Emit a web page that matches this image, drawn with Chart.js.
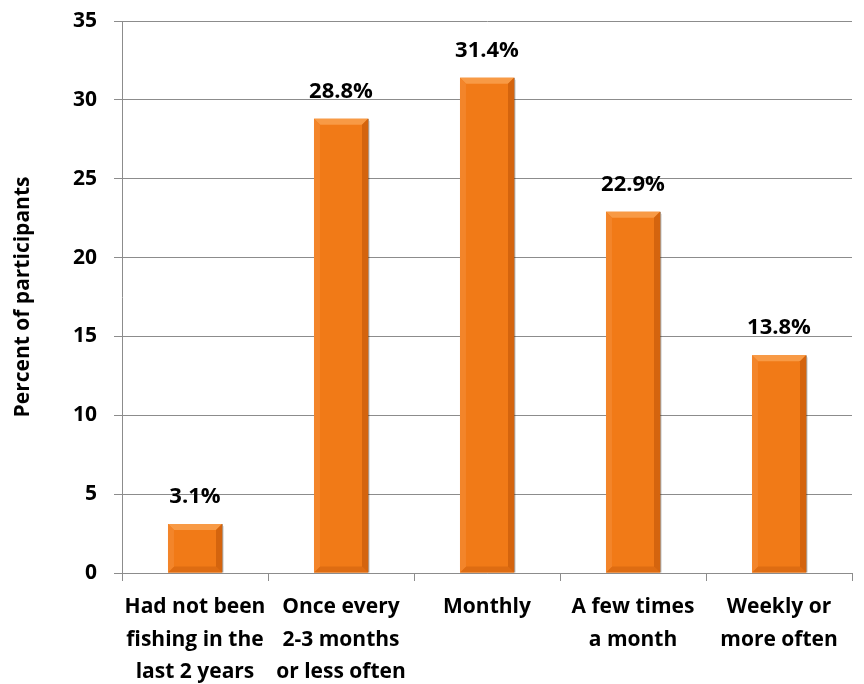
<!DOCTYPE html>
<html>
<head>
<meta charset="utf-8">
<script src="https://cdn.jsdelivr.net/npm/chart.js@4"></script>
<style>
  html, body { margin: 0; padding: 0; background: #fff; }
  #wrap { width: 864px; height: 684px; }
</style>
</head>
<body>
<div id="wrap"><canvas id="fishChart" width="864" height="684"></canvas></div>
<script>
const categories = [
  ["Had not been", "fishing in the", "last 2 years"],
  ["Once every", "2-3 months", "or less often"],
  ["Monthly"],
  ["A few times", "a month"],
  ["Weekly or", "more often"]
];
const percents = [3.1, 28.8, 31.4, 22.9, 13.8];
const yTicks = [0, 5, 10, 15, 20, 25, 30, 35];

const font = "'Open Sans'";

// value labels above each bar + a simple bevel on each bar
const barExtras = {
  id: "barExtras",
  afterDatasetsDraw(chart) {
    const ctx = chart.ctx;
    const meta = chart.getDatasetMeta(0);
    ctx.save();
    meta.data.forEach((bar) => {
      const x0 = bar.x - bar.width / 2, x1 = bar.x + bar.width / 2;
      const y0 = bar.y, y1 = bar.base;
      const b = Math.min(6, (y1 - y0) / 2);
      // top bevel
      ctx.fillStyle = "#f89a45";
      ctx.beginPath();
      ctx.moveTo(x0, y0); ctx.lineTo(x1, y0); ctx.lineTo(x1 - b, y0 + b); ctx.lineTo(x0 + b, y0 + b);
      ctx.closePath(); ctx.fill();
      // bottom bevel
      ctx.fillStyle = "#de6c12";
      ctx.beginPath();
      ctx.moveTo(x0, y1); ctx.lineTo(x1, y1); ctx.lineTo(x1 - b, y1 - b); ctx.lineTo(x0 + b, y1 - b);
      ctx.closePath(); ctx.fill();
      // left bevel
      ctx.fillStyle = "#f3852a";
      ctx.beginPath();
      ctx.moveTo(x0, y0); ctx.lineTo(x0 + b, y0 + b); ctx.lineTo(x0 + b, y1 - b); ctx.lineTo(x0, y1);
      ctx.closePath(); ctx.fill();
      // right bevel
      ctx.fillStyle = "#d4640e";
      ctx.beginPath();
      ctx.moveTo(x1, y0); ctx.lineTo(x1 - b, y0 + b); ctx.lineTo(x1 - b, y1 - b); ctx.lineTo(x1, y1);
      ctx.closePath(); ctx.fill();
      // edge / shadow
      ctx.strokeStyle = "rgba(120,60,10,0.55)";
      ctx.lineWidth = 1;
      ctx.beginPath();
      ctx.moveTo(x1 + 0.5, y0); ctx.lineTo(x1 + 0.5, y1);
      ctx.stroke();
      ctx.strokeStyle = "rgba(0,0,0,0.12)";
      ctx.beginPath();
      ctx.moveTo(x1 + 1.5, y0 + 2); ctx.lineTo(x1 + 1.5, y1);
      ctx.stroke();
    });
    ctx.font = "bold 22px " + font;
    ctx.fillStyle = "#000";
    ctx.textAlign = "center";
    ctx.textBaseline = "alphabetic";
    meta.data.forEach((bar, i) => {
      ctx.fillText(percents[i].toFixed(1) + "%", bar.x, bar.y - 21);
    });
    ctx.restore();
  }
};

new Chart(document.getElementById("fishChart"), {
  type: "bar",
  data: {
    labels: categories,
    datasets: [{
      data: percents,
      backgroundColor: "#f17a17",
      borderWidth: 0,
      barPercentage: 0.37,
      categoryPercentage: 1
    }]
  },
  options: {
    responsive: false,
    animation: false,
    layout: { padding: { top: 21, right: 12, left: 0, bottom: 0 } },
    plugins: {
      legend: { display: false },
      tooltip: { enabled: false }
    },
    scales: {
      y: {
        min: 0,
        max: 35,
        afterBuildTicks: axis => { axis.ticks = yTicks.map(v => ({ value: v })); },
        afterFit: axis => { axis.width = 122; axis.paddingTop = 0; axis.paddingBottom = 0; },
        grid: { color: "#8c8c8c", lineWidth: 1, tickLength: 8 },
        border: { color: "#8c8c8c" },
        ticks: { color: "#000", font: { family: font, weight: "bold", size: 21 }, padding: 17 },
        title: {
          display: true,
          text: "Percent of participants",
          color: "#000",
          font: { family: font, weight: "bold", size: 21 },
          padding: { top: 10, bottom: 0 }
        }
      },
      x: {
        afterFit: axis => { axis.height = 111; axis.paddingLeft = 0; axis.paddingRight = 0; },
        grid: { drawOnChartArea: false, color: "#8c8c8c", tickLength: 8, offset: true },
        border: { color: "#8c8c8c" },
        ticks: {
          color: "#000",
          font: { family: font, weight: "bold", size: 21, lineHeight: 1.55 },
          maxRotation: 0,
          autoSkip: false,
          padding: 10
        }
      }
    }
  },
  plugins: [barExtras]
});
</script>
</body>
</html>
